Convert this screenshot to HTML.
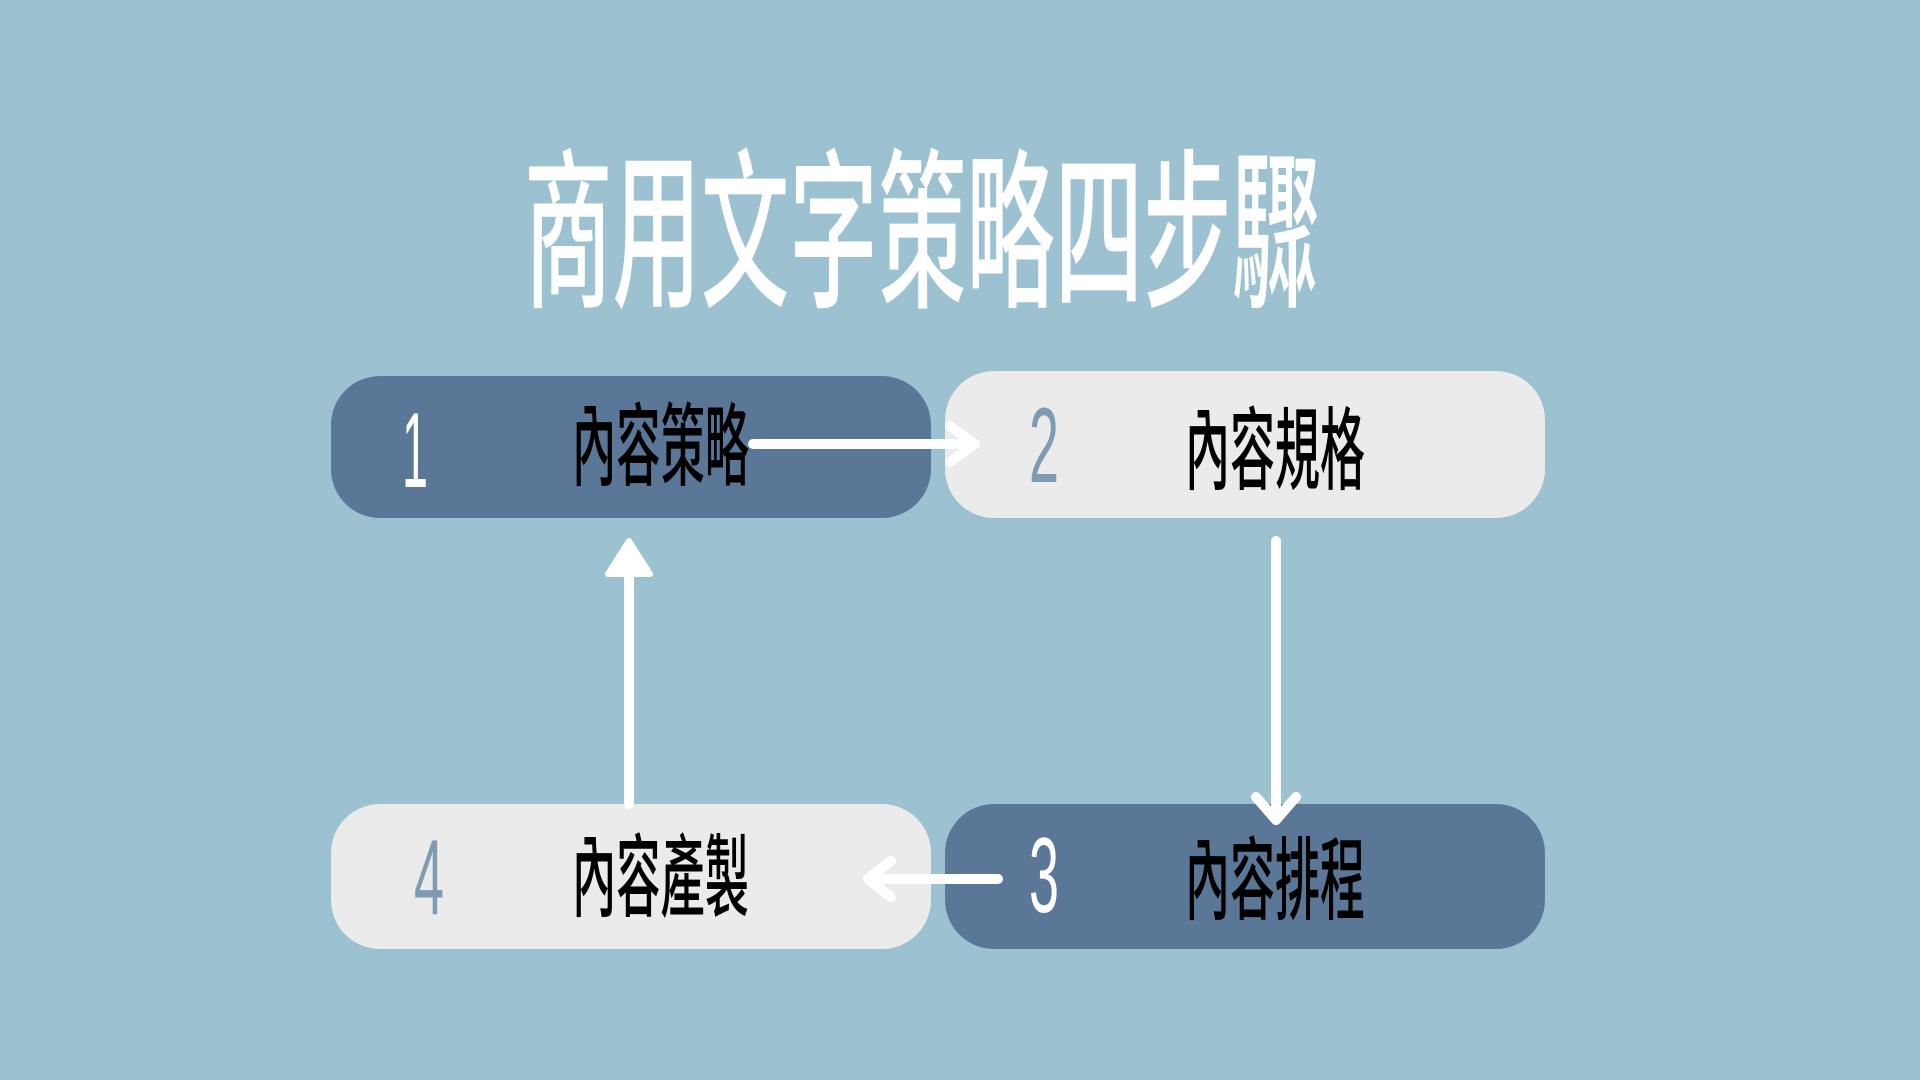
<!DOCTYPE html>
<html><head><meta charset="utf-8"><style>
html,body{margin:0;padding:0;background:#9cc1d1;}
svg{display:block}
text{font-family:"Liberation Sans","Noto Sans CJK TC",sans-serif;}
</style></head><body>
<svg width="1920" height="1080" viewBox="0 0 1920 1080">
<rect width="1920" height="1080" fill="#9cc1d1"/>
<text x="524" y="294" font-size="172" fill="#fff" textLength="796" lengthAdjust="spacingAndGlyphs" font-family="Noto Sans CJK TC, sans-serif" font-weight="500">商用文字策略四步驟</text>
<rect x="331" y="376" width="600" height="142" rx="49" fill="#5b7798"/>
<rect x="945" y="371" width="600" height="147" rx="49" fill="#ebebeb"/>
<rect x="945" y="804" width="600" height="145" rx="49" fill="#5b7798"/>
<rect x="331" y="804" width="600" height="145" rx="49" fill="#ebebeb"/>
<g font-size="107">
<text x="402" y="487" fill="#fff" textLength="26" lengthAdjust="spacingAndGlyphs">1</text>
<text x="1029" y="482" fill="#7f9bb3" textLength="30" lengthAdjust="spacingAndGlyphs">2</text>
<text x="1029" y="912" fill="#fff" textLength="30" lengthAdjust="spacingAndGlyphs">3</text>
<text x="414" y="914" fill="#7f9bb3" textLength="30" lengthAdjust="spacingAndGlyphs">4</text>
</g>
<g font-size="90" fill="#000" font-family="Noto Sans CJK TC, sans-serif" font-weight="500">
<text x="572" y="478" textLength="177" lengthAdjust="spacingAndGlyphs">內容策略</text>
<text x="1185" y="482" textLength="180" lengthAdjust="spacingAndGlyphs">內容規格</text>
<text x="1185" y="912" textLength="180" lengthAdjust="spacingAndGlyphs">內容排程</text>
<text x="572" y="909" textLength="177" lengthAdjust="spacingAndGlyphs">內容產製</text>
</g>
<g stroke="#fff" stroke-width="10" fill="none" stroke-linecap="round" stroke-linejoin="round">
<line x1="753" y1="444" x2="975" y2="444"/>
<polyline points="950,426 975,444 950,462"/>
<line x1="1276" y1="541" x2="1276" y2="820"/>
<polyline points="1256,797 1276,820 1296,797"/>
<line x1="998" y1="879" x2="868" y2="879"/>
<polyline points="891,861 868,879 891,897"/>
<line x1="629" y1="804" x2="629" y2="548"/>
</g>
<polygon points="629,541 608,574 650,574" fill="#fff" stroke="#fff" stroke-width="6" stroke-linejoin="round"/>
</svg>
</body></html>
